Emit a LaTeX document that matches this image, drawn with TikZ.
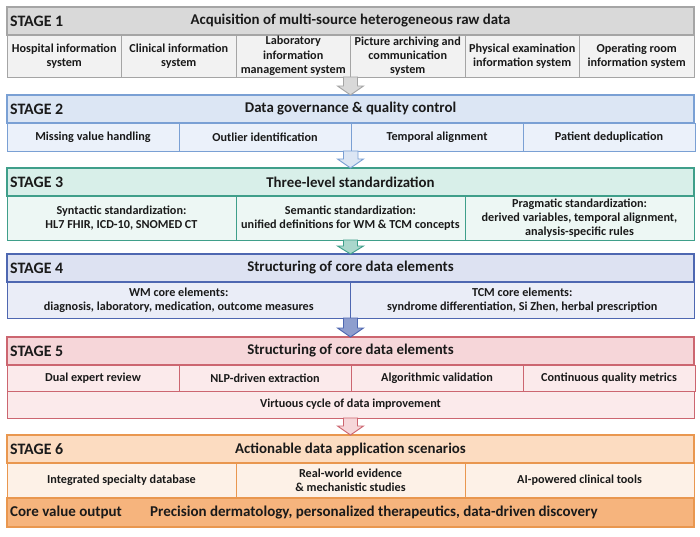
\documentclass[tikz,border=0pt]{standalone}
\usepackage{fontspec}
\setmainfont{Carlito}
\usetikzlibrary{calc}

\definecolor{ink}{HTML}{1A1A1A}
\definecolor{grayline}{HTML}{A5A5A5}
\definecolor{grayhead}{HTML}{D9D9D9}
\definecolor{graycell}{HTML}{F2F2F2}
\definecolor{blueline}{HTML}{7AA0D4}
\definecolor{bluehead}{HTML}{DCE6F4}
\definecolor{bluecell}{HTML}{EBF1FA}
\definecolor{tealline}{HTML}{3F9F8A}
\definecolor{tealhead}{HTML}{D8EFE9}
\definecolor{tealcell}{HTML}{EDF7F4}
\definecolor{navyline}{HTML}{4E67B1}
\definecolor{navyhead}{HTML}{DDE2F2}
\definecolor{navycell}{HTML}{EAEDF7}
\definecolor{redline}{HTML}{CC6670}
\definecolor{redhead}{HTML}{F6D6D9}
\definecolor{redcell}{HTML}{FBEAEB}
\definecolor{orangeline}{HTML}{E9974F}
\definecolor{orangehead}{HTML}{FCDCC1}
\definecolor{orangecell}{HTML}{FDF1E7}
\definecolor{orangecore}{HTML}{F6B47D}

\tikzset{
  cell/.style={draw, line width=0.7pt, inner sep=1pt, outer sep=0pt, align=center, text=ink,
    font=\bfseries\fontsize{10.4}{12.2}\selectfont},
  head/.style={cell, line width=1.1pt, minimum width=20.61cm, minimum height=0.84cm,
    font=\bfseries\fontsize{12.7}{14}\selectfont},
  tag/.style={anchor=west, inner sep=0pt, text=ink, font=\bfseries\fontsize{13.6}{15}\selectfont},
  flow/.style={line width=0.8pt, line join=miter},
}

\begin{document}
\begin{tikzpicture}[x=0.03cm, y=-0.03cm]
  \useasboundingbox (0,0) rectangle (700,537);

  % stage 1
  \node[head, draw=grayline, fill=grayhead] (s1) at (350.5,21) {Acquisition of multi-source heterogeneous raw data};
  \node[tag] (s1tag) at ([xshift=0.09cm]s1.west) {STAGE 1};
  \node[cell, draw=grayline, fill=graycell, minimum width=3.435cm, minimum height=1.26cm] (s1c1) at (64.25,56) {Hospital information\\system};
  \node[cell, draw=grayline, fill=graycell, minimum width=3.435cm, minimum height=1.26cm] (s1c2) at (178.75,56) {Clinical information\\system};
  \node[cell, draw=grayline, fill=graycell, minimum width=3.435cm, minimum height=1.26cm] (s1c3) at (293.25,56) {Laboratory\\information\\management system};
  \node[cell, draw=grayline, fill=graycell, minimum width=3.435cm, minimum height=1.26cm] (s1c4) at (407.75,56) {Picture archiving and\\communication\\system};
  \node[cell, draw=grayline, fill=graycell, minimum width=3.435cm, minimum height=1.26cm] (s1c5) at (522.25,56) {Physical examination\\information system};
  \node[cell, draw=grayline, fill=graycell, minimum width=3.435cm, minimum height=1.26cm] (s1c6) at (636.75,56) {Operating room\\information system};

  % stage 2
  \node[head, draw=blueline, fill=bluehead] (s2) at (350.5,109) {Data governance \& quality control};
  \node[tag] (s2tag) at ([xshift=0.09cm]s2.west) {STAGE 2};
  \node[cell, draw=blueline, fill=bluecell, minimum width=5.16cm, minimum height=0.84cm] (s2c1) at (93,137) {Missing value handling};
  \node[cell, draw=blueline, fill=bluecell, minimum width=5.16cm, minimum height=0.84cm] (s2c2) at (265,137) {Outlier identification};
  \node[cell, draw=blueline, fill=bluecell, minimum width=5.16cm, minimum height=0.84cm] (s2c3) at (437,137) {Temporal alignment};
  \node[cell, draw=blueline, fill=bluecell, minimum width=5.16cm, minimum height=0.84cm] (s2c4) at (609,137) {Patient deduplication};

  % stage 3
  \node[head, draw=tealline, fill=tealhead] (s3) at (350.5,182) {Three-level standardization};
  \node[tag] (s3tag) at ([xshift=0.09cm]s3.west) {STAGE 3};
  \node[cell, draw=tealline, fill=tealcell, minimum width=6.87cm, minimum height=1.32cm] (s3c1) at (121.5,218) {Syntactic standardization:\\HL7 FHIR, ICD-10, SNOMED CT};
  \node[cell, draw=tealline, fill=tealcell, minimum width=6.87cm, minimum height=1.32cm] (s3c2) at (350.5,218) {Semantic standardization:\\unified definitions for WM \& TCM concepts};
  \node[cell, draw=tealline, fill=tealcell, minimum width=6.87cm, minimum height=1.32cm] (s3c3) at (579.5,218) {Pragmatic standardization:\\derived variables, temporal alignment,\\analysis-specific rules};

  % stage 4
  \node[head, draw=navyline, fill=navyhead] (s4) at (350.5,268) {Structuring of core data elements};
  \node[tag] (s4tag) at ([xshift=0.09cm]s4.west) {STAGE 4};
  \node[cell, draw=navyline, fill=navycell, minimum width=10.305cm, minimum height=1.08cm] (s4c1) at (178.75,300) {WM core elements:\\diagnosis, laboratory, medication, outcome measures};
  \node[cell, draw=navyline, fill=navycell, minimum width=10.305cm, minimum height=1.08cm] (s4c2) at (522.25,300) {TCM core elements:\\syndrome differentiation, Si Zhen, herbal prescription};

  % stage 5
  \node[head, draw=redline, fill=redhead] (s5) at (350.5,351) {Structuring of core data elements};
  \node[tag] (s5tag) at ([xshift=0.09cm]s5.west) {STAGE 5};
  \node[cell, draw=redline, fill=redcell, minimum width=5.16cm, minimum height=0.78cm] (s5c1) at (93,378) {Dual expert review};
  \node[cell, draw=redline, fill=redcell, minimum width=5.16cm, minimum height=0.78cm] (s5c2) at (265,378) {NLP-driven extraction};
  \node[cell, draw=redline, fill=redcell, minimum width=5.16cm, minimum height=0.78cm] (s5c3) at (437,378) {Algorithmic validation};
  \node[cell, draw=redline, fill=redcell, minimum width=5.16cm, minimum height=0.78cm] (s5c4) at (609,378) {Continuous quality metrics};
  \node[cell, draw=redline, fill=redcell, minimum width=20.61cm, minimum height=0.81cm] (s5loop) at (350.5,404.5) {Virtuous cycle of data improvement};

  % stage 6
  \node[head, draw=orangeline, fill=orangehead] (s6) at (350.5,449) {Actionable data application scenarios};
  \node[tag] (s6tag) at ([xshift=0.09cm]s6.west) {STAGE 6};
  \node[cell, draw=orangeline, fill=orangecell, minimum width=6.87cm, minimum height=1.05cm] (s6c1) at (121.5,480.5) {Integrated specialty database};
  \node[cell, draw=orangeline, fill=orangecell, minimum width=6.87cm, minimum height=1.05cm] (s6c2) at (350.5,480.5) {Real-world evidence\\\& mechanistic studies};
  \node[cell, draw=orangeline, fill=orangecell, minimum width=6.87cm, minimum height=1.05cm] (s6c3) at (579.5,480.5) {AI-powered clinical tools};
  \node[head, draw=orangeline, fill=orangecore, minimum height=0.87cm] (core) at (350.5,512.5) {};
  \node[tag, font=\bfseries\fontsize{12.8}{14}\selectfont] (coretag) at ([xshift=0.09cm]core.west) {Core value output};
  \node[tag, font=\bfseries\fontsize{12.8}{14}\selectfont] (coretext) at (150,512.5) {Precision dermatology, personalized therapeutics, data-driven discovery};

  % arrows between stages
  \draw[flow, draw=grayline, fill=grayhead] (s2.north) -- ++(-13,-9) -- ++(6,0) |- (s1c3.south east) -- ++(7,0) |- ($(s2.north)+(13,-9)$) -- cycle;
  \draw[flow, draw=blueline, fill=bluehead] (s3.north) -- ++(-13,-9) -- ++(6,0) |- (s2c2.south east) -- ++(7,0) |- ($(s3.north)+(13,-9)$) -- cycle;
  \draw[flow, draw=tealline, fill=tealhead!70!tealline] (s4.north) -- ++(-13,-8) -- ++(6,0) |- (s3c2.south) -- ++(7,0) |- ($(s4.north)+(13,-8)$) -- cycle;
  \draw[flow, draw=navyline, fill=navyhead!45!navyline] (s5.north) -- ++(-13,-9) -- ++(6,0) |- (s4c1.south east) -- ++(7,0) |- ($(s5.north)+(13,-9)$) -- cycle;
  \draw[flow, draw=redline, fill=redhead] (s6.north) -- ++(-13,-9) -- ++(6,0) |- (s5loop.south) -- ++(7,0) |- ($(s6.north)+(13,-9)$) -- cycle;
\end{tikzpicture}
\end{document}
